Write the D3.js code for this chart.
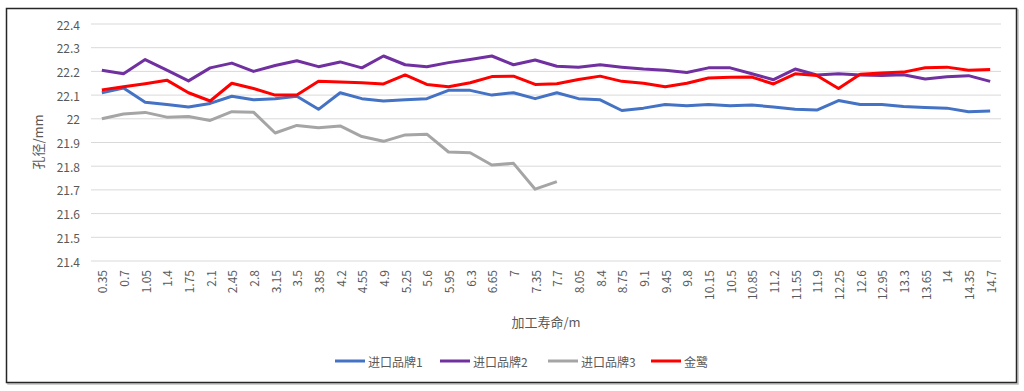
<!DOCTYPE html>
<html>
<head>
<meta charset="utf-8">
<script src="https://cdn.jsdelivr.net/npm/d3@7"></script>
<style>
  body { margin: 0; background: #fff; }
  text { font-family: "Noto Sans CJK SC", "Noto Sans", sans-serif; fill: #595959; }
</style>
</head>
<body>
<div id="chart"></div>
<script>
const categories = ["0.35","0.7","1.05","1.4","1.75","2.1","2.45","2.8","3.15","3.5","3.85","4.2","4.55","4.9","5.25","5.6","5.95","6.3","6.65","7","7.35","7.7","8.05","8.4","8.75","9.1","9.45","9.8","10.15","10.5","10.85","11.2","11.55","11.9","12.25","12.6","12.95","13.3","13.65","14","14.35","14.7"];

const brand1 = [22.11,22.13,22.07,22.06,22.05,22.065,22.095,22.08,22.085,22.095,22.04,22.11,22.085,22.075,22.08,22.085,22.12,22.12,22.10,22.11,22.085,22.11,22.085,22.08,22.035,22.045,22.06,22.055,22.06,22.055,22.058,22.05,22.04,22.037,22.077,22.06,22.06,22.052,22.048,22.045,22.03,22.033];
const brand2 = [22.205,22.19,22.25,22.205,22.16,22.215,22.235,22.20,22.225,22.245,22.22,22.24,22.215,22.265,22.228,22.22,22.237,22.25,22.265,22.228,22.248,22.222,22.218,22.228,22.218,22.21,22.205,22.195,22.215,22.215,22.19,22.165,22.21,22.185,22.19,22.185,22.183,22.186,22.168,22.177,22.182,22.158];
const brand3 = [22.00,22.02,22.027,22.007,22.01,21.993,22.03,22.028,21.94,21.972,21.962,21.97,21.925,21.905,21.932,21.935,21.86,21.857,21.805,21.812,21.703,21.735];
const jinlu = [22.122,22.135,22.148,22.163,22.11,22.075,22.15,22.128,22.1,22.1,22.158,22.155,22.152,22.147,22.185,22.145,22.135,22.152,22.178,22.18,22.145,22.148,22.166,22.18,22.158,22.15,22.135,22.15,22.172,22.175,22.176,22.147,22.19,22.183,22.128,22.188,22.193,22.197,22.215,22.218,22.205,22.208];

const seriesNames = ["进口品牌1","进口品牌2","进口品牌3","金鹭"];
const seriesColors = ["#4472C4","#7030A0","#A5A5A5","#FF0000"];
const yTicks = [21.4,21.5,21.6,21.7,21.8,21.9,22,22.1,22.2,22.3,22.4];

const W = 1024, H = 391;
const plot = { left: 91, right: 1001, top: 24, bottom: 261 };

const svg = d3.select("#chart").append("svg")
  .attr("width", W).attr("height", H);

// frame (with a faint shadow like the original)
svg.append("rect")
  .attr("x", 8).attr("y", 10)
  .attr("width", 1010).attr("height", 374)
  .attr("fill", "none").attr("stroke", "#bfbfbf").attr("stroke-width", 1.5);
svg.append("rect")
  .attr("x", 6.5).attr("y", 8.5)
  .attr("width", 1010).attr("height", 374)
  .attr("fill", "#fff").attr("stroke", "#262626").attr("stroke-width", 1.5);

const x = d3.scaleBand().domain(categories).range([plot.left, plot.right]);
const y = d3.scaleLinear().domain([21.4, 22.4]).range([plot.bottom, plot.top]);

// grid
svg.append("g").selectAll("line").data(yTicks).join("line")
  .attr("x1", plot.left).attr("x2", plot.right)
  .attr("y1", d => y(d)).attr("y2", d => y(d))
  .attr("stroke", "#d9d9d9").attr("stroke-width", 1);

// y tick labels
svg.append("g").selectAll("text").data(yTicks).join("text")
  .attr("x", 80).attr("y", d => y(d))
  .attr("text-anchor", "end").attr("dominant-baseline", "central")
  .style("font-size", "12px")
  .text(d => d3.format("")(d));

// x tick labels
svg.append("g").selectAll("text").data(categories).join("text")
  .attr("transform", d => `translate(${x(d) + x.bandwidth() / 2},270) rotate(-90)`)
  .attr("text-anchor", "end").attr("dominant-baseline", "central")
  .style("font-size", "12px")
  .text(d => d);

// axis titles
svg.append("text")
  .attr("transform", "translate(37,142) rotate(-90)")
  .attr("text-anchor", "middle").attr("dominant-baseline", "central")
  .style("font-size", "13px").text("孔径/mm");
svg.append("text")
  .attr("x", 546).attr("y", 321)
  .attr("text-anchor", "middle").attr("dominant-baseline", "central")
  .style("font-size", "13px").text("加工寿命/m");

// lines
const allSeries = [brand1, brand2, brand3, jinlu];
const line = d3.line()
  .x((d, i) => x(categories[i]) + x.bandwidth() / 2)
  .y(d => y(d));

svg.append("g").selectAll("path").data(allSeries).join("path")
  .attr("d", d => line(d))
  .attr("fill", "none")
  .attr("stroke", (d, i) => seriesColors[i])
  .attr("stroke-width", 3)
  .attr("stroke-linejoin", "round");

// legend
const legendX = [335, 440, 548, 651];
const lg = svg.append("g").selectAll("g").data(seriesNames).join("g")
  .attr("transform", (d, i) => `translate(${legendX[i]},361)`);
lg.append("line")
  .attr("x1", 0).attr("x2", 30)
  .attr("stroke", (d, i) => seriesColors[i]).attr("stroke-width", 3);
lg.append("text")
  .attr("x", 33).attr("dominant-baseline", "central")
  .style("font-size", "12px").text(d => d);
</script>
</body>
</html>
